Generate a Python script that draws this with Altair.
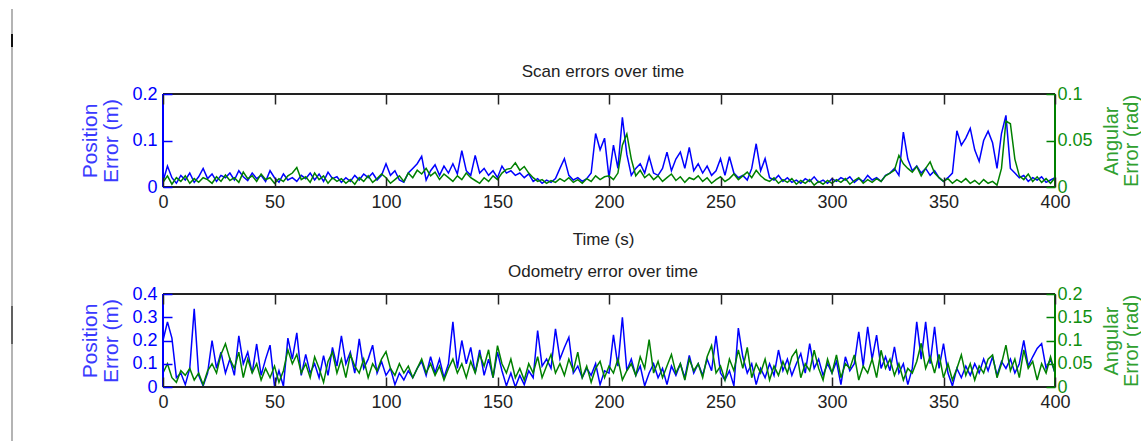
import altair as alt
import pandas as pd

# ---------------- data (2 s sampling) ----------------
time = list(range(0, 401, 2))

scan_pos = [
    0.012, 0.045, 0.02, 0.008, 0.025, 0.015, 0.03, 0.01, 0.022, 0.04,
    0.018, 0.028, 0.012, 0.025, 0.02, 0.03, 0.015, 0.035, 0.022, 0.014,
    0.03, 0.018, 0.025, 0.012, 0.035, 0.02, 0.01, 0.028, 0.015, 0.02,
    0.012, 0.025, 0.018, 0.03, 0.015, 0.028, 0.012, 0.032, 0.018, 0.022,
    0.01, 0.02, 0.012, 0.025, 0.015, 0.028, 0.02, 0.03, 0.015, 0.025,
    0.05, 0.025, 0.035, 0.015, 0.01, 0.03, 0.04, 0.05, 0.066, 0.015,
    0.035, 0.048, 0.025, 0.045, 0.03, 0.05, 0.028, 0.078, 0.035, 0.025,
    0.068, 0.03, 0.04, 0.025, 0.035, 0.02, 0.045, 0.03, 0.035, 0.025,
    0.03, 0.02, 0.028, 0.012, 0.018, 0.008, 0.015, 0.01, 0.018, 0.04,
    0.061, 0.025, 0.015, 0.02, 0.012, 0.018, 0.03, 0.115, 0.08, 0.105,
    0.02, 0.09, 0.04, 0.15, 0.07, 0.025, 0.04, 0.05, 0.03, 0.065,
    0.03, 0.025, 0.04, 0.075, 0.035, 0.06, 0.075, 0.04, 0.085, 0.035,
    0.05, 0.03, 0.045, 0.025, 0.035, 0.061, 0.025, 0.065, 0.03, 0.02,
    0.025, 0.015, 0.04, 0.093, 0.035, 0.061, 0.02, 0.015, 0.025, 0.012,
    0.02, 0.01, 0.015, 0.008, 0.018, 0.012, 0.022, 0.01, 0.015, 0.008,
    0.018, 0.012, 0.02, 0.015, 0.022, 0.01, 0.018, 0.012, 0.025, 0.015,
    0.02, 0.012, 0.025, 0.03, 0.04, 0.025, 0.118, 0.06, 0.035, 0.045,
    0.03, 0.04, 0.025, 0.035, 0.02, 0.012, 0.02, 0.03, 0.121, 0.09,
    0.105, 0.126, 0.08, 0.055, 0.1, 0.12, 0.095, 0.04, 0.115, 0.154,
    0.04, 0.03, 0.02, 0.025, 0.012, 0.02, 0.015, 0.022, 0.01, 0.015,
    0.02,
]

scan_ang = [
    0.005, 0.012, 0.003, 0.01, 0.006, 0.012, 0.004, 0.009, 0.005, 0.01,
    0.008, 0.004, 0.011, 0.006, 0.013, 0.007, 0.01, 0.005, 0.016, 0.009,
    0.012, 0.006, 0.014, 0.008, 0.01, 0.004, 0.009, 0.006, 0.012, 0.015,
    0.021, 0.008, 0.011, 0.005, 0.015, 0.008, 0.012, 0.004, 0.01, 0.006,
    0.009, 0.004, 0.008, 0.003, 0.01, 0.006, 0.012, 0.005, 0.009, 0.014,
    0.01, 0.004, 0.008, 0.012, 0.006, 0.015, 0.01, 0.018, 0.014, 0.02,
    0.012, 0.016, 0.008, 0.014, 0.01, 0.006, 0.012, 0.008, 0.015, 0.01,
    0.007, 0.004, 0.01, 0.006, 0.012, 0.008, 0.015, 0.019, 0.02, 0.026,
    0.018, 0.022, 0.015, 0.01, 0.006, 0.008, 0.004, 0.007, 0.005, 0.009,
    0.006, 0.01, 0.005, 0.008, 0.004, 0.009, 0.006, 0.012, 0.008, 0.011,
    0.012, 0.008, 0.015, 0.045, 0.057, 0.03, 0.012, 0.018, 0.01, 0.014,
    0.008, 0.012, 0.006, 0.01, 0.014, 0.007, 0.011, 0.005, 0.01, 0.008,
    0.012, 0.006, 0.01, 0.004, 0.008, 0.011, 0.006, 0.009, 0.014, 0.008,
    0.012, 0.016, 0.01, 0.018, 0.012, 0.008, 0.006, 0.01, 0.004, 0.008,
    0.005, 0.009, 0.003, 0.007, 0.004, 0.008, 0.002, 0.006, 0.003, 0.007,
    0.004, 0.008, 0.005, 0.009, 0.003, 0.007, 0.01, 0.004, 0.008, 0.005,
    0.009, 0.006, 0.012, 0.015, 0.018, 0.034, 0.025, 0.02, 0.016, 0.022,
    0.012, 0.02, 0.027, 0.015, 0.01, 0.006, 0.009, 0.004, 0.008, 0.005,
    0.009, 0.004, 0.007, 0.003, 0.008, 0.004, 0.006, 0.002, 0.02, 0.071,
    0.068, 0.03, 0.012, 0.008, 0.014, 0.006, 0.011, 0.005, 0.009, 0.004,
    0.01,
]

odo_pos = [
    0.2, 0.28, 0.21, 0.04, 0.06, 0.01, 0.08, 0.336, 0.05, 0.005,
    0.06, 0.2, 0.08, 0.15, 0.06, 0.12, 0.05, 0.22, 0.1, 0.15,
    0.06, 0.185, 0.05, 0.12, 0.18, 0.005, 0.07, 0.003, 0.21, 0.12,
    0.233, 0.05, 0.14, 0.06, 0.1, 0.04, 0.135, 0.05, 0.17, 0.09,
    0.22, 0.1, 0.15, 0.06, 0.207, 0.08, 0.12, 0.18, 0.06, 0.11,
    0.05, 0.08, 0.01, 0.06, 0.03, 0.07, 0.04, 0.08, 0.11, 0.05,
    0.13, 0.06, 0.12, 0.04, 0.1, 0.28, 0.08, 0.2, 0.1, 0.17,
    0.06, 0.16, 0.05, 0.12, 0.04, 0.15, 0.07, 0.005, 0.06, 0.0,
    0.05, 0.01, 0.07, 0.04, 0.243, 0.09, 0.12, 0.08, 0.25, 0.12,
    0.17, 0.214, 0.06, 0.09, 0.04, 0.08, 0.05, 0.1, 0.01, 0.07,
    0.06, 0.224, 0.09, 0.3, 0.07, 0.12, 0.05, 0.09, 0.005, 0.06,
    0.1, 0.04, 0.08, 0.01, 0.09, 0.05, 0.1, 0.04, 0.136, 0.06,
    0.1, 0.05, 0.12, 0.07, 0.22, 0.06, 0.03, 0.07, 0.005, 0.253,
    0.13, 0.06, 0.1, 0.01, 0.08, 0.04, 0.1, 0.05, 0.159, 0.07,
    0.12, 0.05, 0.1, 0.144, 0.06, 0.187, 0.08, 0.12, 0.05, 0.1,
    0.06, 0.11, 0.01, 0.13, 0.07, 0.1, 0.237, 0.09, 0.259, 0.12,
    0.223, 0.08, 0.13, 0.07, 0.173, 0.06, 0.1, 0.01, 0.08, 0.28,
    0.12, 0.28, 0.1, 0.259, 0.08, 0.187, 0.06, 0.005, 0.08, 0.04,
    0.09, 0.05, 0.1, 0.06, 0.12, 0.07, 0.13, 0.05, 0.11, 0.08,
    0.12, 0.06, 0.1, 0.2, 0.09, 0.13, 0.166, 0.187, 0.08, 0.12,
    0.06,
]

odo_ang = [
    0.03, 0.05, 0.02, 0.01, 0.035, 0.025, 0.04, 0.015, 0.03, 0.005,
    0.035, 0.05, 0.03, 0.07, 0.093, 0.06, 0.04, 0.075, 0.02, 0.06,
    0.03, 0.05, 0.015, 0.04, 0.02, 0.045, 0.01, 0.035, 0.08, 0.05,
    0.07, 0.03, 0.05, 0.02, 0.065, 0.04, 0.01, 0.055, 0.075, 0.03,
    0.06, 0.02, 0.07, 0.045, 0.03, 0.06, 0.02, 0.05, 0.035, 0.06,
    0.076, 0.04, 0.025, 0.05, 0.03, 0.045, 0.02, 0.04, 0.06, 0.03,
    0.05, 0.025, 0.045, 0.015, 0.04, 0.06, 0.03, 0.05, 0.02, 0.055,
    0.03, 0.07, 0.045, 0.08, 0.02, 0.089, 0.05, 0.03, 0.06, 0.02,
    0.04, 0.015, 0.05, 0.03, 0.065, 0.02, 0.045, 0.07, 0.03, 0.05,
    0.025, 0.06, 0.035, 0.075, 0.02, 0.045, 0.01, 0.04, 0.055, 0.02,
    0.045, 0.03, 0.06, 0.015, 0.035, 0.05, 0.025, 0.065, 0.04, 0.102,
    0.03, 0.055, 0.02, 0.045, 0.07, 0.03, 0.05, 0.015, 0.06, 0.035,
    0.05, 0.02, 0.065, 0.089, 0.03, 0.045, 0.015, 0.06, 0.035, 0.08,
    0.04, 0.085, 0.02, 0.05, 0.03, 0.06, 0.015, 0.045, 0.025, 0.055,
    0.03, 0.065, 0.079, 0.02, 0.05, 0.035, 0.079, 0.04, 0.015, 0.06,
    0.03, 0.069, 0.02, 0.05, 0.04, 0.069, 0.015, 0.045, 0.03, 0.06,
    0.02, 0.079, 0.04, 0.06, 0.025, 0.05, 0.015, 0.04, 0.03, 0.055,
    0.094, 0.04, 0.065, 0.03, 0.07, 0.02, 0.05, 0.015, 0.04, 0.069,
    0.025, 0.05, 0.015, 0.045, 0.03, 0.06, 0.069, 0.02, 0.05, 0.09,
    0.035, 0.06, 0.02, 0.08, 0.04, 0.055, 0.015, 0.05, 0.03, 0.065,
    0.03,
]

x_ticks = [0, 50, 100, 150, 200, 250, 300, 350, 400]
scan_pos_ticks = [0, 0.1, 0.2]
scan_ang_ticks = [0, 0.05, 0.1]
odo_pos_ticks = [0, 0.1, 0.2, 0.3, 0.4]
odo_ang_ticks = [0, 0.05, 0.1, 0.15, 0.2]

# ---------------- styling ----------------
FONT = "Liberation Sans, Arial, sans-serif"
BLUE = "#0000ff"
GREEN = "#008000"
DARK = "#222222"
W, H = 892, 93
one = pd.DataFrame({"k": [0]})


def panel(pos, ang, pos_max, ang_max, pos_ticks, ang_ticks, title, xtitle, edge):
    df = pd.DataFrame({"time": time, "pos": pos, "ang": ang})
    xscale = alt.Scale(domain=[0, 400], nice=False, zero=False)

    xb_kwargs = dict(
        orient="bottom", values=x_ticks, offset=-10, tickSize=10, tickWidth=1.5,
        tickColor=DARK, domain=False, grid=False, labelFont=FONT,
        labelFontSize=18, labelColor=DARK, labelFlush=False, labelPadding=6,
        labelOverlap=False, zindex=1,
    )
    if xtitle:
        xb_kwargs.update(title=xtitle, titleFont=FONT, titleFontSize=17,
                         titleFontWeight="normal", titleColor=DARK,
                         titlePadding=20, titleX=W / 2 - 6)
    else:
        xb_kwargs.update(title=None)

    blue = alt.Chart(df).mark_line(color=BLUE, strokeWidth=1.5).encode(
        x=alt.X("time:Q", scale=xscale, axis=alt.Axis(**xb_kwargs)),
        y=alt.Y("pos:Q", scale=alt.Scale(domain=[0, pos_max], nice=False, zero=True),
                axis=alt.Axis(orient="left", values=pos_ticks, offset=-9, tickSize=9,
                              tickWidth=1.5, tickColor=BLUE, domain=False, grid=False,
                              labelColor=BLUE, labelFont=FONT, labelFontSize=18,
                              labelPadding=6, labelFlush=False, labelOverlap=False,
                              format="~g", zindex=1,
                              title=["Position", "Error (m)"], titleColor="#3a3aff",
                              titleFont=FONT, titleFontSize=21, titleFontWeight="normal",
                              titleLineHeight=21.5, titlePadding=10)),
    )
    green = alt.Chart(df).mark_line(color=GREEN, strokeWidth=1.5).encode(
        x=alt.X("time:Q", scale=xscale,
                axis=alt.Axis(orient="top", values=x_ticks, offset=-10, tickSize=10,
                              tickWidth=1.5, tickColor=DARK, domain=False, grid=False,
                              labels=False, title=None, zindex=1)),
        y=alt.Y("ang:Q", scale=alt.Scale(domain=[0, ang_max], nice=False, zero=True),
                axis=alt.Axis(orient="right", values=ang_ticks, offset=-9, tickSize=9,
                              tickWidth=1.5, tickColor=GREEN, domain=False, grid=False,
                              labelColor="#109010", labelFont=FONT, labelFontSize=18,
                              labelPadding=2, labelFlush=False, labelOverlap=False,
                              format="~g", zindex=1,
                              title=["Angular", "Error (rad)"], titleColor="#30a030",
                              titleFont=FONT, titleFontSize=20, titleFontWeight="normal",
                              titleLineHeight=20, titleAngle=270, titleBaseline="top",
                              titleX=55, titleY=H / 2, titleAlign="center")),
    )
    frame = [
        alt.Chart(one).mark_rule(color=DARK, strokeWidth=2).encode(
            x=alt.value(0), x2=alt.value(W), y=alt.value(0)),
        alt.Chart(one).mark_rule(color=DARK, strokeWidth=2).encode(
            x=alt.value(0), x2=alt.value(W), y=alt.value(H)),
        alt.Chart(one).mark_rule(color=BLUE, strokeWidth=2).encode(
            x=alt.value(0), y=alt.value(0), y2=alt.value(H)),
        alt.Chart(one).mark_rule(color=GREEN, strokeWidth=2).encode(
            x=alt.value(W), y=alt.value(0), y2=alt.value(H)),
    ]
    heading = alt.Chart(one).mark_text(
        font=FONT, fontSize=17, color=DARK, align="center", baseline="alphabetic"
    ).encode(x=alt.value(W / 2 - 6), y=alt.value(-17), text=alt.value(title))

    layers = list(edge) + [blue, green] + frame + [heading]
    return alt.layer(*layers).properties(width=W, height=H).resolve_scale(
        y="independent").resolve_axis(x="independent", y="independent")


# screenshot edge line at the far left of the image
edge = [
    alt.Chart(one).mark_rule(color="#b4b4b4", strokeWidth=2).encode(
        x=alt.value(-151), y=alt.value(-85), y2=alt.value(347)),
    alt.Chart(one).mark_rule(color="#111111", strokeWidth=2).encode(
        x=alt.value(-151), y=alt.value(-60), y2=alt.value(-47)),
    alt.Chart(one).mark_rule(color="#606060", strokeWidth=2).encode(
        x=alt.value(-151), y=alt.value(212), y2=alt.value(250)),
]

top = panel(scan_pos, scan_ang, 0.2, 0.1, scan_pos_ticks, scan_ang_ticks,
            "Scan errors over time", "Time (s)", edge)
bottom = panel(odo_pos, odo_ang, 0.4, 0.2, odo_pos_ticks, odo_ang_ticks,
               "Odometry error over time", None, [])

chart = alt.vconcat(top, bottom, spacing=107, bounds="flush").properties(
    padding={"left": 11, "top": 8, "right": 0, "bottom": 0},
    background="white",
).configure_view(strokeWidth=0)

chart.save("out.html", embed_options={"renderer": "svg", "actions": False})
